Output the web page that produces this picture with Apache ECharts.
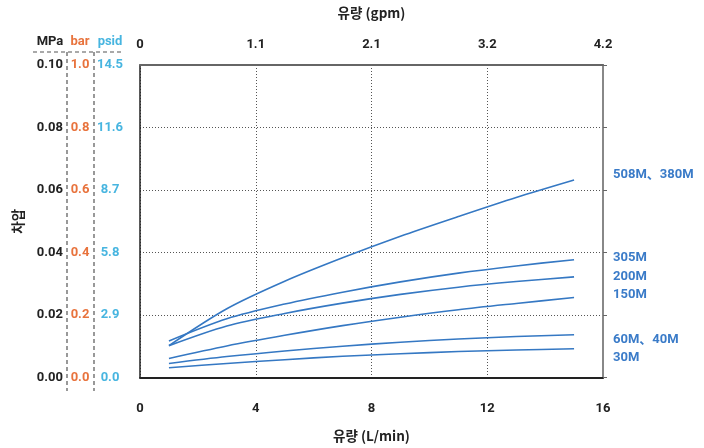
<!DOCTYPE html>
<html><head><meta charset="utf-8">
<script src="https://cdn.jsdelivr.net/npm/echarts@6/dist/echarts.min.js"></script>
<style>html,body{margin:0;padding:0;background:#fff}#c{width:704px;height:448px}</style>
</head><body><div id="c"></div>
<script>
// ---- data ----
const flowLpm = [1, 3, 5, 7, 9, 11, 13, 15];
const seriesNames = ['508M、380M', '305M', '200M', '150M', '60M、40M', '30M'];
const s508 = [0.0102, 0.0220, 0.0308, 0.0383, 0.0452, 0.0515, 0.0576, 0.0632];
const s305 = [0.0117, 0.0188, 0.0235, 0.0273, 0.0306, 0.0334, 0.0357, 0.0377];
const s200 = [0.0102, 0.0165, 0.0205, 0.0238, 0.0266, 0.0289, 0.0307, 0.0322];
const s150 = [0.0061, 0.0101, 0.0135, 0.0166, 0.0193, 0.0217, 0.0237, 0.0256];
const s60 = [0.0045, 0.0067, 0.0085, 0.0100, 0.0113, 0.0123, 0.0131, 0.0137];
const s30 = [0.0031, 0.0045, 0.0057, 0.0068, 0.0076, 0.0083, 0.0088, 0.0092];
const gpmTicks = ['0', '1.1', '2.1', '3.2', '4.2'];
const mpaTicks = ['0.00', '0.02', '0.04', '0.06', '0.08', '0.10'];
const barTicks = ['0.0', '0.2', '0.4', '0.6', '0.8', '1.0'];
const psidTicks = ['0.0', '2.9', '5.8', '8.7', '11.6', '14.5'];
const allSeries = [s508, s305, s200, s150, s60, s30];

// ---- styling ----
const FONT = "Roboto, 'Noto Sans CJK KR', sans-serif";
const KFONT = "'Noto Sans CJK KR', Roboto, sans-serif";
const LINE = '#3578c3';
const labelOffsets = [[39, -5], [39, -2], [39, 0], [39, -3], [39, 5], [39, 9]];
const idx = v => Math.round(v / 0.02);
const LBL = {fontFamily: FONT, fontSize: 13, fontWeight: 'bold'};

const chart = echarts.init(document.getElementById('c'), null, {renderer: 'canvas'});
const gridLeft = 140, gridTop = 65, gridW = 463, gridH = 318;

function yAx(ticks, color, margin, align, extra) {
  return Object.assign({
    type: 'value', min: 0, max: 0.1, interval: 0.02, position: 'left',
    axisLine: {show: false}, axisTick: {show: false}, splitLine: {show: false},
    axisLabel: Object.assign({
      color: color, margin: margin, align: align,
      formatter: v => ticks[idx(v)]
    }, LBL)
  }, extra || {});
}

const titleStyle = {fontFamily: KFONT, fontSize: 13.5, color: '#222', fontWeight: 'bold'};

chart.setOption({
  animation: false,
  grid: {left: gridLeft, top: gridTop, width: gridW, height: gridH, containLabel: false},
  xAxis: [
    {
      type: 'value', min: 0, max: 16, interval: 4, position: 'bottom',
      name: '유량 (L/min)', nameLocation: 'middle', nameGap: 52, nameTextStyle: titleStyle,
      axisLine: {show: true, onZero: false, lineStyle: {color: '#222', width: 2}},
      axisTick: {show: false},
      axisLabel: Object.assign({color: '#222', margin: 25}, LBL),
      splitLine: {show: true, lineStyle: {color: '#555', type: [1, 2], width: 1}}
    },
    {
      type: 'value', min: 0, max: 16, interval: 4, position: 'top',
      name: '유량 (gpm)', nameLocation: 'middle', nameGap: 45, nameTextStyle: titleStyle,
      axisLine: {show: true, onZero: false, lineStyle: {color: '#666', width: 2}},
      axisTick: {show: false},
      axisLabel: Object.assign({color: '#222', margin: 14,
        formatter: v => gpmTicks[Math.round(v / 4)]}, LBL),
      splitLine: {show: false}
    }
  ],
  yAxis: [
    yAx(mpaTicks, '#222', 77, 'right', {
      name: '차압', nameLocation: 'middle', nameGap: 115, nameRotate: 90,
      nameTextStyle: titleStyle,
      axisLine: {show: true, onZero: false, lineStyle: {color: '#222', width: 1.5}},
      splitLine: {show: true, lineStyle: {color: '#555', type: [1, 2], width: 1}}
    }),
    yAx(barTicks, '#e8733d', 60, 'center'),
    yAx(psidTicks, '#47b5e0', 30, 'center'),
    {
      type: 'value', min: 0, max: 0.1, interval: 0.02, position: 'right',
      axisLine: {show: true, onZero: false, lineStyle: {color: '#888', width: 2}},
      axisTick: {show: true, inside: false, length: 4, lineStyle: {color: '#666'}},
      axisLabel: {show: false}, splitLine: {show: false}
    }
  ],
  series: allSeries.map((arr, i) => ({
    type: 'line', name: seriesNames[i], xAxisIndex: 0, yAxisIndex: 0,
    data: flowLpm.map((x, j) => [x, arr[j]]),
    smooth: 0.3, showSymbol: false, symbol: 'none',
    lineStyle: {color: LINE, width: 1.6},
    endLabel: Object.assign({
      show: true, formatter: seriesNames[i], color: '#3a7bc8',
      distance: 0, offset: labelOffsets[i]
    }, LBL)
  })),
  graphic: [
    {type: 'line', shape: {x1: 33, y1: 52, x2: 124, y2: 52},
      style: {stroke: '#555', lineWidth: 1.2, lineDash: [4, 3]}},
    {type: 'line', shape: {x1: 67, y1: 52, x2: 67, y2: 391},
      style: {stroke: '#555', lineWidth: 1.2, lineDash: [4, 3]}},
    {type: 'line', shape: {x1: 94, y1: 52, x2: 94, y2: 391},
      style: {stroke: '#555', lineWidth: 1.2, lineDash: [4, 3]}},
    {type: 'text', x: 50, y: 42, style: {text: 'MPa', fill: '#222', font: 'bold 13px ' + FONT, textAlign: 'center', textVerticalAlign: 'middle'}},
    {type: 'text', x: 80, y: 42, style: {text: 'bar', fill: '#e8733d', font: 'bold 13px ' + FONT, textAlign: 'center', textVerticalAlign: 'middle'}},
    {type: 'text', x: 110, y: 42, style: {text: 'psid', fill: '#47b5e0', font: 'bold 13px ' + FONT, textAlign: 'center', textVerticalAlign: 'middle'}}
  ]
});
</script></body></html>
